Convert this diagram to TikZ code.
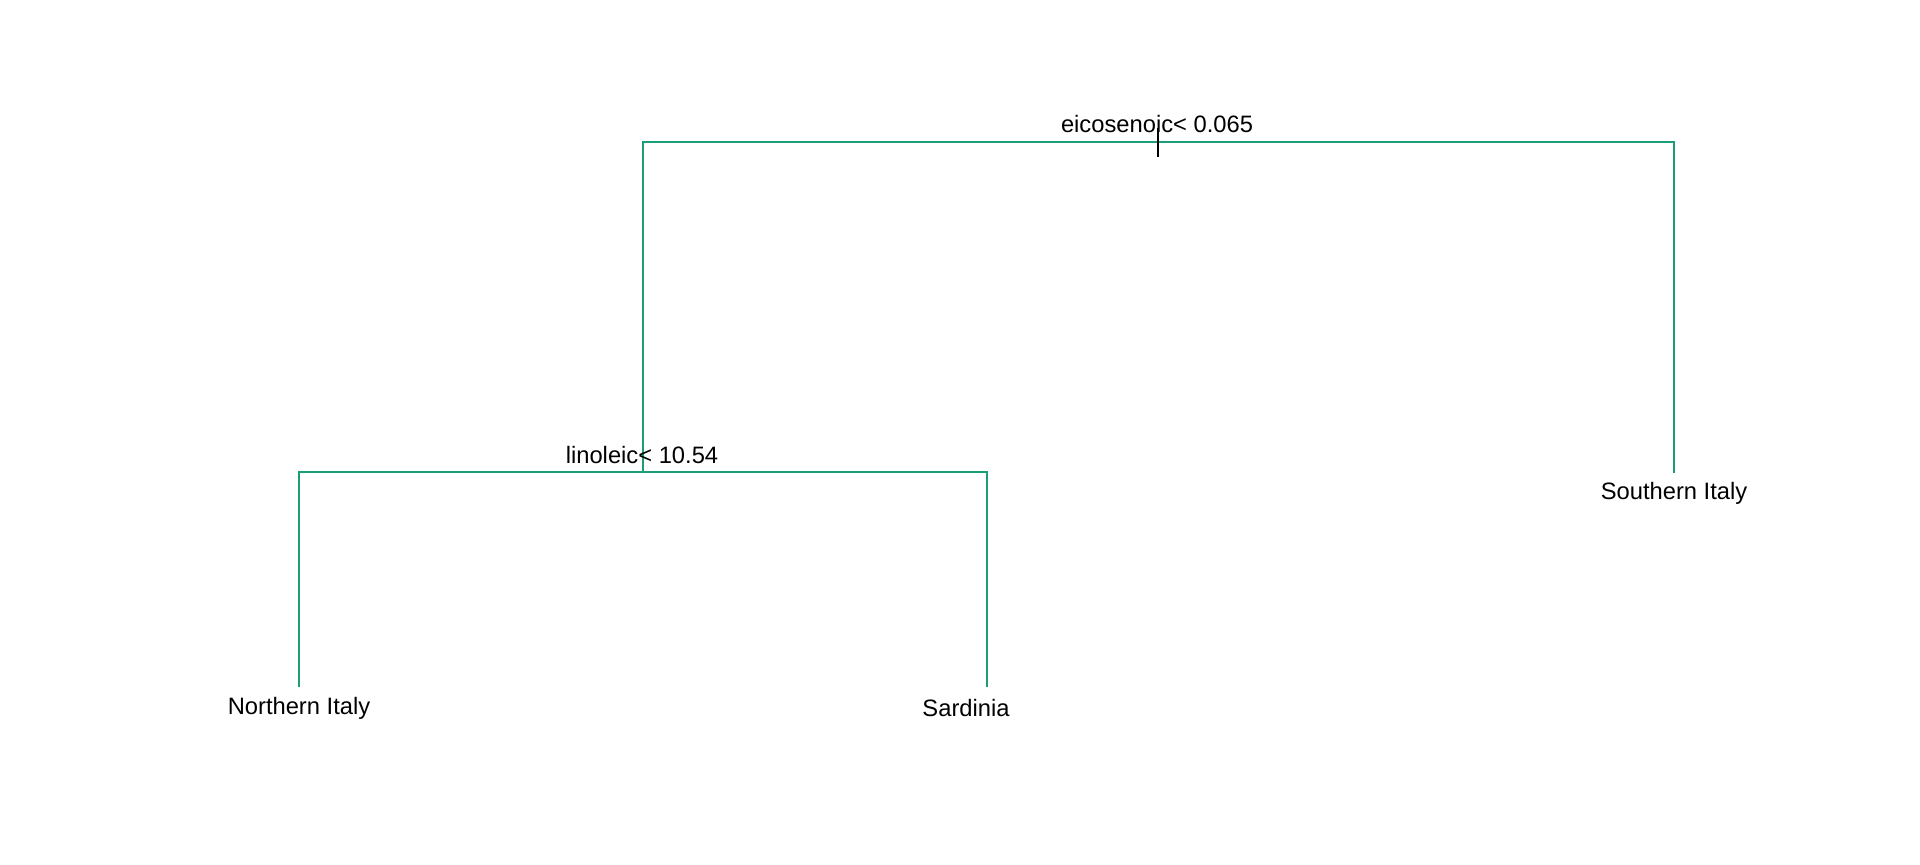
\documentclass[tikz,border=0pt]{standalone}
\usepackage{fontspec}
\setmainfont{Liberation Sans}
\definecolor{treegreen}{HTML}{1B9E77}
\begin{document}
\begin{tikzpicture}[x=0.75pt,y=-0.75pt,
    branch/.style={color=treegreen,line width=1.5pt},
    lbl/.style={anchor=base,inner sep=0pt,font=\fontsize{17.8}{20}\selectfont}]
            \def\ytop{142} \def\ymid{472} \def\yleaf{687} % Höhen
            \useasboundingbox (0,0) rectangle (1920,864);
            \coordinate (root) at (1158,\ytop);
            \coordinate (lin) at (643,\ymid);
            \coordinate (north) at (299,\yleaf);
            \coordinate (sard) at (987,\yleaf);
            \coordinate (south) at (1674,473);
            \draw[branch] (lin)--(643,\ytop)--(1674,\ytop)--(south);
            \draw[branch] (north)--(299,\ymid)--(987,\ymid)--(sard);
            \draw[line width=1.5pt] (1158,128)--(1158,157);
            \node[lbl] (splitroot) at (1157,132) {eicosenoic< 0.065};
            \node[lbl] (splitlin) at (642,463) {linoleic< 10.54};
            \node[lbl] (leafnorth) at (299,714) {Northern Italy};
            \node[lbl] (leafsard) at (966,716) {Sardinia};
            \node[lbl] (leafsouth) at (1674,499) {Southern Italy};
    \end{tikzpicture}
\end{document}
